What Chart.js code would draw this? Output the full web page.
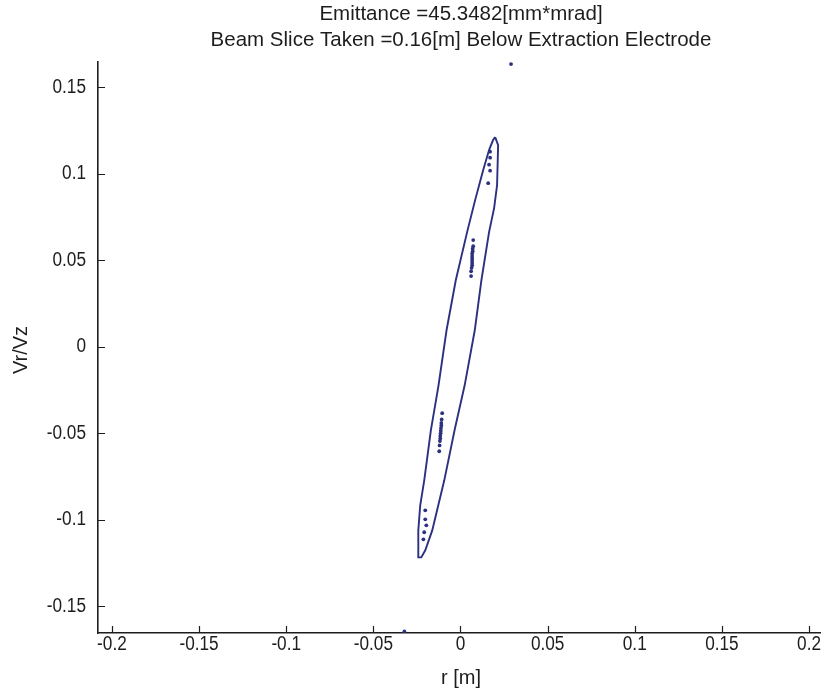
<!DOCTYPE html>
<html>
<head>
<meta charset="utf-8">
<script src="https://cdn.jsdelivr.net/npm/chart.js"></script>
<style>
body{margin:0;background:#fff}
#wrap{width:824px;height:691px}
</style>
</head>
<body>
<div id="wrap"><canvas id="c"></canvas></div>
<script>
/* =========================
   DATA
========================= */
const titleLines = ["Emittance =45.3482[mm*mrad]", "Beam Slice Taken =0.16[m] Below Extraction Electrode"];
const xLabel = "r [m]";
const yLabel = "Vr/Vz";

const xTicks = [-0.2, -0.15, -0.1, -0.05, 0, 0.05, 0.1, 0.15, 0.2];
const yTicks = [-0.15, -0.1, -0.05, 0, 0.05, 0.1, 0.15];

// outline of the emittance contour, going round from the top tip
const outlineR = [0.0199, 0.0216, 0.0210, 0.0193, 0.0164, 0.0120, 0.0082, 0.0024, -0.0034, -0.0093, -0.0162, -0.0202, -0.0225,
                  -0.0242, -0.0242, -0.0231, -0.0208, -0.0170, -0.0126, -0.0080, -0.0027, 0.0038, 0.0084, 0.0130, 0.0164, 0.0187, 0.0199];
const outlineV = [0.1211, 0.1165, 0.0934, 0.0801, 0.0662, 0.0384, 0.0095, -0.0223, -0.0483, -0.0772, -0.1061, -0.1176, -0.1217,
                  -0.1217, -0.1061, -0.0916, -0.0772, -0.0483, -0.0223, 0.0095, 0.0384, 0.0662, 0.0847, 0.1020, 0.1136, 0.1194, 0.1211];

// particles inside the contour
const dotR = [0.0170, 0.0170, 0.0164, 0.0170, 0.0159,
              0.0073, 0.0073, 0.0070, 0.0070, 0.0067, 0.0067, 0.0067, 0.0067, 0.0067, 0.0067, 0.0064, 0.0061, 0.0061,
              -0.0105, -0.0108, -0.0110, -0.0110, -0.0112, -0.0113, -0.0114, -0.0116, -0.0116, -0.0118, -0.0120, -0.0122,
              -0.0202, -0.0202, -0.0196, -0.0208, -0.0213,
              0.0290, -0.0322];
const dotV = [0.1127, 0.1092, 0.1052, 0.1017, 0.0945,
              0.0616, 0.0581, 0.0566, 0.0552, 0.0538, 0.0524, 0.0510, 0.0496, 0.0483, 0.0470, 0.0456, 0.0436, 0.0408,
              -0.0384, -0.0420, -0.0440, -0.0455, -0.0470, -0.0485, -0.0500, -0.0515, -0.0530, -0.0545, -0.0570, -0.0604,
              -0.0945, -0.0997, -0.1032, -0.1072, -0.1113,
              0.1633, -0.1645];

/* =========================
   HELPERS
========================= */
const FONT = "'Liberation Sans', Arial, sans-serif";
const INK = "#1d1d1d";
const BLUE = "#2b3180";

function pts(xs, ys) {
  return xs.map((x, i) => ({x: x, y: ys[i]}));
}

function fmt(v) {
  return String(+v.toFixed(3));
}

// narrow text, like the squeezed labels of the original
function narrowText(ctx, txt, x, y, align) {
  ctx.save();
  ctx.translate(x, y);
  ctx.scale(0.86, 1);
  ctx.textAlign = align;
  ctx.fillText(txt, 0, 0);
  ctx.restore();
}

/* =========================
   PLUGIN: titles, tick labels, inward ticks
========================= */
const matlabLook = {
  id: "matlabLook",
  afterDraw(chart) {
    const ctx = chart.ctx;
    const ca = chart.chartArea;
    const xs = chart.scales.x, ys = chart.scales.y;
    ctx.save();

    // inward ticks
    ctx.strokeStyle = INK;
    ctx.lineWidth = 1.2;
    ctx.beginPath();
    xTicks.forEach(v => {
      const px = Math.round(xs.getPixelForValue(v)) + 0.5;
      ctx.moveTo(px, ca.bottom);
      ctx.lineTo(px, ca.bottom - 7);
    });
    yTicks.forEach(v => {
      const py = Math.round(ys.getPixelForValue(v)) + 0.5;
      ctx.moveTo(ca.left, py);
      ctx.lineTo(ca.left + 7, py);
    });
    ctx.stroke();

    // tick labels
    ctx.fillStyle = INK;
    ctx.textBaseline = "middle";
    ctx.font = "20px " + FONT;
    xTicks.forEach(v => narrowText(ctx, fmt(v), xs.getPixelForValue(v), 644, "center"));
    yTicks.forEach(v => narrowText(ctx, fmt(v), ca.left - 12, ys.getPixelForValue(v), "right"));

    // title
    ctx.textAlign = "center";
    ctx.font = "20.5px " + FONT;
    ctx.fillText(titleLines[0], 461, 14);
    ctx.fillText(titleLines[1], 461, 40);

    // axis titles
    ctx.font = "20px " + FONT;
    ctx.fillText(xLabel, 461, 678);
    ctx.translate(21, 350);
    ctx.rotate(-Math.PI / 2);
    ctx.fillText(yLabel, 0, 0);
    ctx.restore();
  }
};

/* =========================
   CHART
========================= */
new Chart(document.getElementById("c"), {
  type: "scatter",
  data: {
    datasets: [
      {
        data: pts(outlineR, outlineV),
        showLine: true,
        borderColor: BLUE,
        borderWidth: 1.9,
        pointRadius: 0,
        tension: 0,
        fill: false
      },
      {
        data: pts(dotR, dotV),
        showLine: false,
        backgroundColor: BLUE,
        borderWidth: 0,
        pointRadius: 1.9
      }
    ]
  },
  options: {
    responsive: true,
    maintainAspectRatio: false,
    animation: false,
    layout: {padding: {top: 62, right: 2, left: 0, bottom: 0}},
    plugins: {legend: {display: false}, tooltip: {enabled: false}},
    scales: {
      x: {
        type: "linear",
        min: -0.208,
        max: 0.2063,
        afterFit: s => { s.height = 58; },
        afterBuildTicks: s => { s.ticks = xTicks.map(v => ({value: v})); },
        grid: {display: false, drawTicks: false},
        border: {display: true, color: INK, width: 1.6},
        ticks: {display: false}
      },
      y: {
        type: "linear",
        min: -0.1654,
        max: 0.1645,
        afterFit: s => { s.width = 98; },
        afterBuildTicks: s => { s.ticks = yTicks.map(v => ({value: v})); },
        grid: {display: false, drawTicks: false},
        border: {display: true, color: INK, width: 1.6},
        ticks: {display: false}
      }
    }
  },
  plugins: [matlabLook]
});
</script>
</body>
</html>
